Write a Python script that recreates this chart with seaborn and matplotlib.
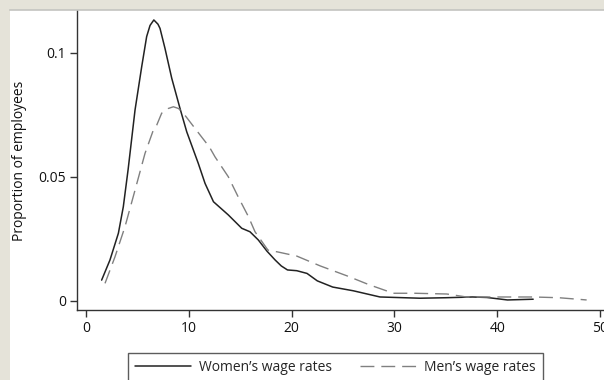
import numpy as np
import pandas as pd
import matplotlib
matplotlib.use("Agg")
import matplotlib.pyplot as plt
import seaborn as sns

women_x = [1.52, 2.33, 3.15, 3.63, 4.1, 4.77, 5.42, 5.9, 6.23, 6.6, 7.0, 7.2, 7.68, 8.34,
           9.14, 9.8, 10.92, 11.58, 12.4, 13.84, 15.15, 15.95, 16.76, 17.6, 18.4, 19.0,
           19.6, 20.5, 21.5, 22.5, 24.0, 26.0, 28.6, 32.5, 35.0, 37.6, 39.0, 41.0, 43.5]
women_y = [0.0083, 0.0164, 0.0272, 0.0379, 0.053, 0.0769, 0.0944, 0.1065, 0.111, 0.1132,
           0.1115, 0.1098, 0.1018, 0.0897, 0.0776, 0.0681, 0.0554, 0.0473, 0.0399, 0.0346,
           0.0292, 0.0278, 0.0245, 0.020, 0.0164, 0.0140, 0.0124, 0.0121, 0.011, 0.008,
           0.0055, 0.004, 0.0015, 0.001, 0.0012, 0.0015, 0.0013, 0.0003, 0.0006]

men_x = [1.85, 2.82, 3.79, 4.77, 5.74, 6.55, 6.88, 7.36, 8.0, 8.5, 9.0, 9.47, 10.6, 11.25,
         12.0, 12.55, 13.84, 14.8, 15.8, 16.44, 17.7, 18.6, 20.5, 22.8, 25.4, 27.5, 29.9,
         32.0, 35.1, 37.0, 40.0, 43.5, 46.0, 48.7]
men_y = [0.007, 0.0177, 0.0298, 0.0446, 0.0594, 0.0688, 0.0708, 0.0756, 0.0775, 0.0782,
         0.0775, 0.0756, 0.0695, 0.066, 0.062, 0.058, 0.050, 0.0419, 0.0339, 0.0278,
         0.0204, 0.0197, 0.018, 0.014, 0.010, 0.0065, 0.003, 0.003, 0.0027, 0.0015,
         0.0015, 0.0015, 0.0012, 0.0003]

x_ticks = [0, 10, 20, 30, 40, 50]
y_ticks = [0, 0.05, 0.1]
y_tick_labels = ["0", "0.05", "0.1"]
series_labels = ["Women\u2019s wage rates", "Men\u2019s wage rates"]
y_label = "Proportion of employees"

sns.set_style("ticks")
plt.rcParams["font.family"] = ["Open Sans", "DejaVu Sans"]

W, H = 604, 380
fig = plt.figure(figsize=(W / 100, H / 100), dpi=100)
fig.patch.set_facecolor("#e5e3d9")
# white panel (background axes)
bg = fig.add_axes([10 / W, 0, 1 - 10 / W, 1 - 10 / H], zorder=0)
bg.set_facecolor("white")
bg.set_xticks([])
bg.set_yticks([])
for s in ["left", "right", "bottom"]:
    bg.spines[s].set_visible(False)
bg.spines["top"].set_color("#c4c4c0")
bg.spines["top"].set_linewidth(1.2)

ax_left, ax_right = 77 / W, 1.0
ax_bottom, ax_top = 1 - 310 / H, 1 - 11 / H
ax = fig.add_axes([ax_left, ax_bottom, ax_right - ax_left, ax_top - ax_bottom], zorder=2)
ax.set_facecolor("none")

wdf = pd.DataFrame({"x": women_x, "y": women_y})
mdf = pd.DataFrame({"x": men_x, "y": men_y})
sns.lineplot(data=wdf, x="x", y="y", ax=ax, color="#222222", lw=1.1, label=series_labels[0])
sns.lineplot(data=mdf, x="x", y="y", ax=ax, color="#808080", lw=1.0, dashes=False,
             label=series_labels[1])
ax.lines[1].set_dashes([10, 5])
for ln in ax.lines[:2]:
    ln.set_solid_joinstyle("round")
    ln.set_dash_joinstyle("round")

px_per_unit = 102.8 / 10
ax.set_xlim((77 - 86) / px_per_unit, (604 - 86) / px_per_unit)
ypx = 0.05 / 124
ax.set_ylim((300.7 - 310) * ypx, (300.7 - 11) * ypx)

ax.set_xticks(x_ticks)
ax.set_xticklabels([str(t) for t in x_ticks])
ax.set_yticks(y_ticks)
ax.set_yticklabels(y_tick_labels)
ax.tick_params(axis="both", direction="out", length=5, width=1, colors="#333333",
               labelsize=10, labelcolor="#111111", pad=3)
for s in ["top", "right"]:
    ax.spines[s].set_visible(False)
for s in ["left", "bottom"]:
    ax.spines[s].set_color("#333333")
    ax.spines[s].set_linewidth(1.0)
ax.set_xlabel("")
ax.set_ylabel(y_label, fontsize=10, color="#111111", labelpad=8)

if ax.legend_:
    ax.legend_.remove()
handles = ax.lines[:2]
leg = fig.legend(handles, series_labels, loc="upper center", ncol=2,
                 bbox_to_anchor=(335.5 / W, 1 - 346 / H), bbox_transform=fig.transFigure,
                 frameon=True, fancybox=False, fontsize=10, handlelength=4.0,
                 columnspacing=2.0, borderpad=0.5, handletextpad=0.6)
leg.get_frame().set_edgecolor("#333333")
leg.get_frame().set_linewidth(1.0)
leg.set_zorder(5)

fig.savefig("out.png", dpi=100, facecolor=fig.get_facecolor())
